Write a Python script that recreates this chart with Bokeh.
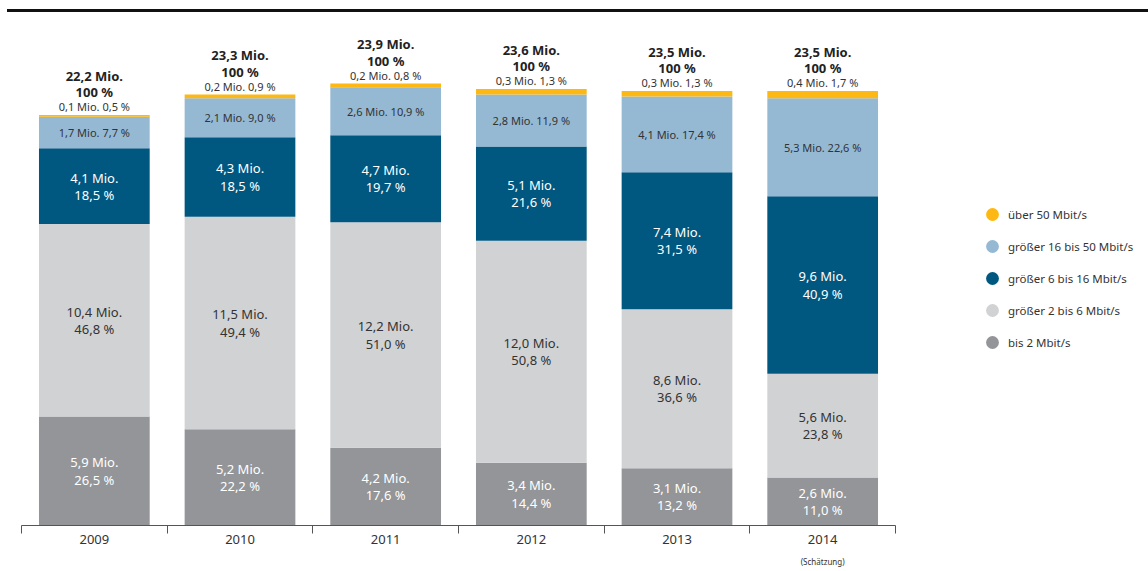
from bokeh.plotting import figure
from bokeh.models import (ColumnDataSource, Range1d, FixedTicker, LinearAxis,
                          Legend, LegendItem, Div)
from bokeh.layouts import column, row
from bokeh.core.properties import value
from bokeh.embed import file_html
from bokeh.resources import INLINE

# ---------------- data ----------------
years = ["2009", "2010", "2011", "2012", "2013", "2014"]
totals = [22.2, 23.3, 23.9, 23.6, 23.5, 23.5]

bis2_mio = [5.9, 5.2, 4.2, 3.4, 3.1, 2.6]
bis2_pct = [26.5, 22.2, 17.6, 14.4, 13.2, 11.0]
g2_6_mio = [10.4, 11.5, 12.2, 12.0, 8.6, 5.6]
g2_6_pct = [46.8, 49.4, 51.0, 50.8, 36.6, 23.8]
g6_16_mio = [4.1, 4.3, 4.7, 5.1, 7.4, 9.6]
g6_16_pct = [18.5, 18.5, 19.7, 21.6, 31.5, 40.9]
g16_50_mio = [1.7, 2.1, 2.6, 2.8, 4.1, 5.3]
g16_50_pct = [7.7, 9.0, 10.9, 11.9, 17.4, 22.6]
u50_mio = [0.1, 0.2, 0.2, 0.3, 0.3, 0.4]
u50_pct = [0.5, 0.9, 0.8, 1.3, 1.3, 1.7]

series_names = ["bis 2 Mbit/s", "größer 2 bis 6 Mbit/s", "größer 6 bis 16 Mbit/s",
                "größer 16 bis 50 Mbit/s", "über 50 Mbit/s"]
colors = ["#939598", "#D1D2D4", "#00577F", "#95B9D3", "#FDB813"]
note_2014 = "(Schätzung)"

FONT = "Noto Sans"
DARK = "#333333"


def de(v):
    return f"{v:.1f}".replace(".", ",")


n = len(years)
xs = [i + 0.5 for i in range(n)]
stack_keys = ["bis2", "g2_6", "g6_16", "g16_50", "u50"]
data = dict(x=xs, bis2=bis2_mio, g2_6=g2_6_mio, g6_16=g6_16_mio,
            g16_50=g16_50_mio, u50=u50_mio)
source = ColumnDataSource(data)

H = 549
p = figure(width=900, height=H, x_range=Range1d(0, n), y_range=Range1d(0, 27.2),
           output_backend="svg", toolbar_location=None,
           x_axis_location=None, y_axis_location=None,
           min_border_left=21, min_border_right=5, min_border_top=2,
           min_border_bottom=42)
p.grid.visible = False
p.outline_line_color = None
p.background_fill_color = "white"

p.vbar_stack(stack_keys, x="x", width=0.76, color=colors, line_color=None,
             source=source)

# ---------- segment labels ----------
mios = [bis2_mio, g2_6_mio, g6_16_mio, g16_50_mio]
pcts = [bis2_pct, g2_6_pct, g6_16_pct, g16_50_pct]
txt_colors = ["white", DARK, "white", DARK]
base = [0.0] * n
for k in range(4):
    mids = [base[j] + mios[k][j] / 2 for j in range(n)]
    if k < 3:
        texts = [f"{de(mios[k][j])} Mio.\n{de(pcts[k][j])} %" for j in range(n)]
        fs = "13px"
    else:
        texts = [f"{de(mios[k][j])} Mio. {de(pcts[k][j])} %" for j in range(n)]
        fs = "11px"
    p.text(x=xs, y=mids, text=texts, text_align="center", text_baseline="middle",
           text_color=txt_colors[k], text_font=value(FONT), text_font_size=fs,
           text_line_height=0.96)
    base = [base[j] + mios[k][j] for j in range(n)]

# top segment label above bars
p.text(x=xs, y=totals,
       text=[f"{de(u50_mio[j])} Mio. {de(u50_pct[j])} %" for j in range(n)],
       text_align="center", text_baseline="bottom", y_offset=-1,
       text_color=DARK, text_font=value(FONT), text_font_size="11px")
p.text(x=xs, y=totals,
       text=[f"{de(t)} Mio.\n100 %" for t in totals],
       text_align="center", text_baseline="bottom", y_offset=-14,
       text_color="#222222", text_font=value(FONT), text_font_size="13px",
       text_font_style="bold", text_line_height=0.9)

# ---------- axes ----------
centers = xs
bounds = [float(i) for i in range(n + 1)]
ax = LinearAxis(ticker=FixedTicker(ticks=centers, minor_ticks=bounds),
                major_label_overrides={c: y for c, y in zip(centers, years)},
                axis_line_color="#555555", axis_line_width=1,
                major_tick_line_color=None, major_tick_out=0, major_tick_in=0,
                minor_tick_line_color="#555555", minor_tick_out=8, minor_tick_in=0,
                major_label_standoff=1,
                major_label_text_font=FONT, major_label_text_font_size="13px",
                major_label_text_color=DARK)
p.add_layout(ax, "below")
ax2 = LinearAxis(ticker=FixedTicker(ticks=[xs[-1]]),
                 major_label_overrides={xs[-1]: note_2014},
                 axis_line_color=None, major_tick_line_color=None,
                 minor_tick_line_color=None, major_tick_out=0, major_tick_in=0,
                 minor_tick_out=0, minor_tick_in=0, major_label_standoff=9,
                 major_label_text_font=FONT, major_label_text_font_size="8px",
                 major_label_text_color=DARK)
p.add_layout(ax2, "below")

# ---------- legend (separate panel) ----------
pl = figure(width=248, height=H, x_range=Range1d(0, 1), y_range=Range1d(0, 1),
            output_backend="svg", toolbar_location=None,
            x_axis_location=None, y_axis_location=None,
            min_border_left=0, min_border_right=0, min_border_top=0,
            min_border_bottom=0)
pl.grid.visible = False
pl.outline_line_color = None
nan = float("nan")
items = []
for name, c in reversed(list(zip(series_names, colors))):
    r = pl.scatter(x=[nan], y=[nan], marker="circle", size=13, color=c, line_color=None)
    items.append(LegendItem(label=name, renderers=[r]))
legend = Legend(items=items, location=(76, 167), orientation="vertical",
                border_line_color=None, background_fill_alpha=0,
                glyph_width=32, glyph_height=32, spacing=0, label_standoff=0,
                padding=0, margin=0, label_text_font=FONT,
                label_text_font_size="11.5px", label_text_color=DARK)
pl.add_layout(legend, "center")

rule = Div(text="<div style='border-top:3px solid #111111; margin-top:7px; margin-left:7px; width:1141px'></div>",
           width=1148, height=20, margin=(0, 0, 0, 0))

layout = column(rule, row(p, pl))
open("out.html", "w").write(file_html(layout, INLINE))
